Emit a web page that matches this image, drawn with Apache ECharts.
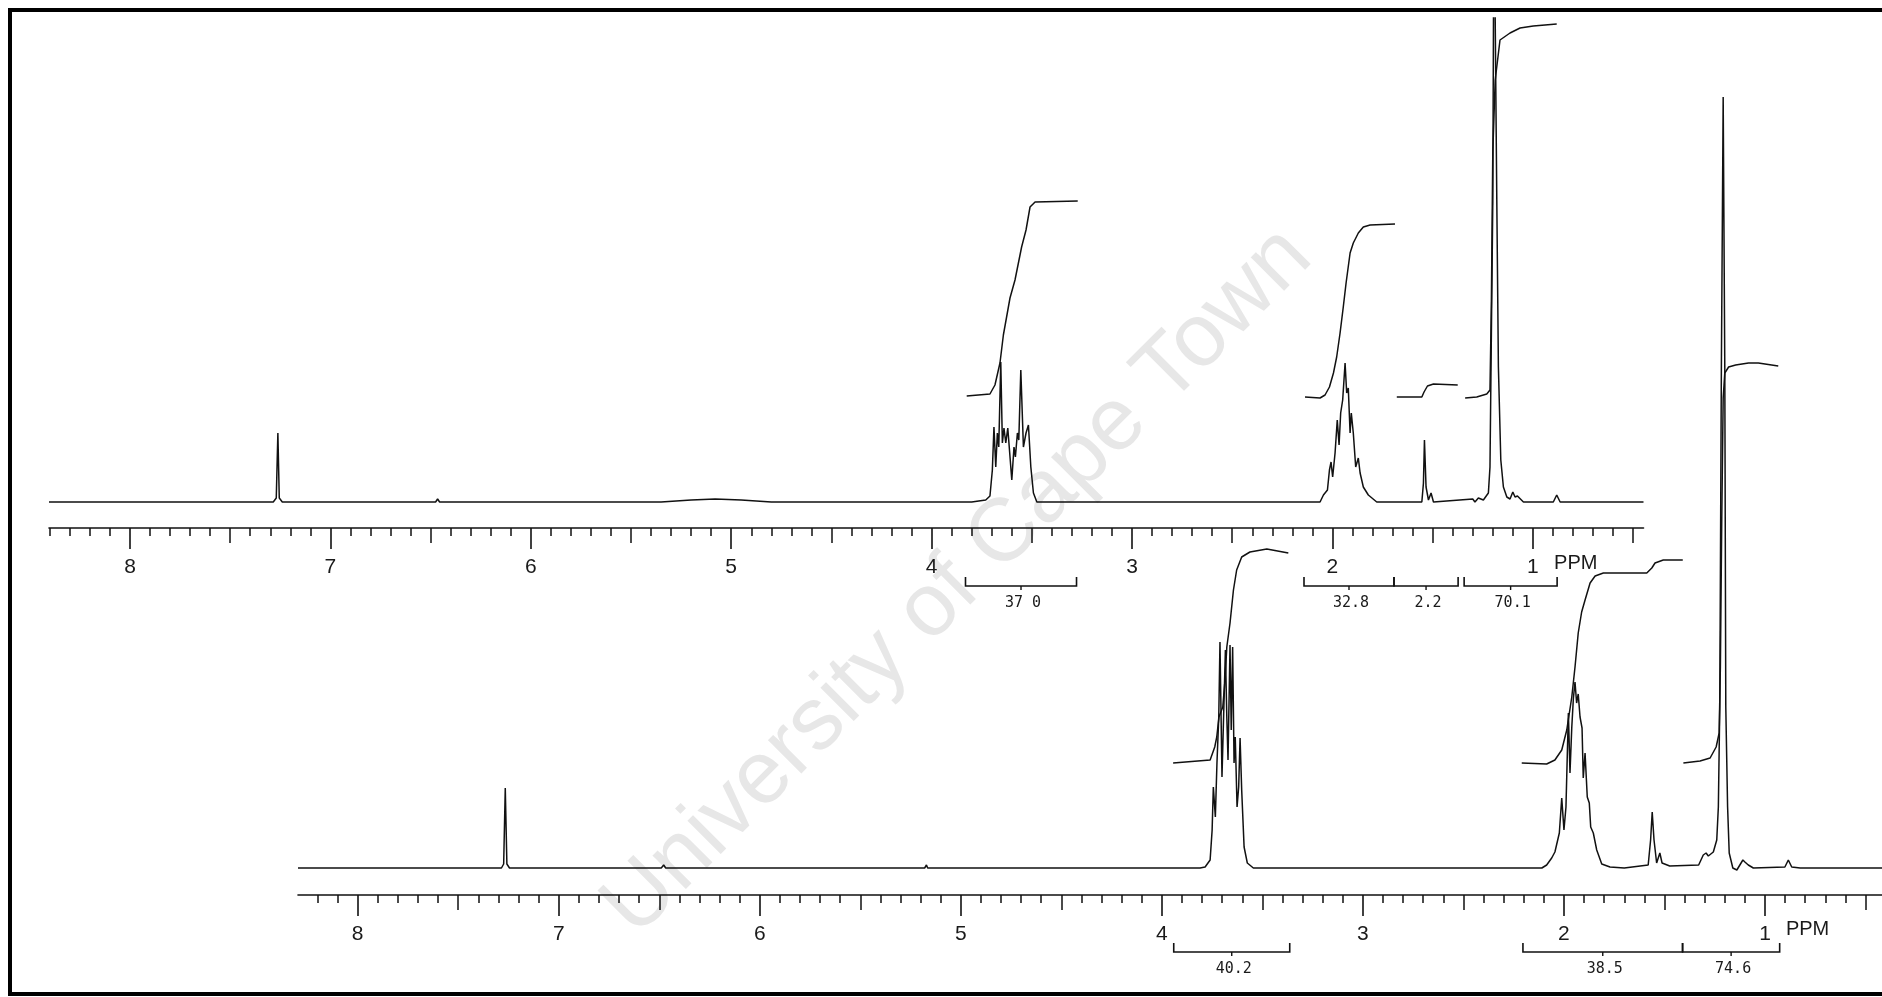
<!DOCTYPE html>
<html>
<head>
<meta charset="utf-8">
<title>1H NMR spectra</title>
<script src="https://cdn.jsdelivr.net/npm/echarts@6/dist/echarts.min.js"></script>
<style>
html, body { margin: 0; padding: 0; background: #fff; }
#chart { width: 1882px; height: 997px; }
</style>
</head>
<body>
<div id="chart"></div>
<script>
// ppm vs. intensity (intensity, baseline = 0)
var topSpectrum = [
    [8.404, 0], [7.285, 0], [7.270, 4], [7.262, 69], [7.255, 4], [7.240, 0],
    [6.475, 0], [6.465, 3], [6.455, 0],
    [5.35, 0], [5.20, 2], [5.08, 3], [4.95, 2], [4.80, 0],
    [3.80, 0], [3.73, 2], [3.709, 6], [3.697, 32], [3.689, 75], [3.680, 35], [3.672, 69], [3.665, 55],
    [3.655, 140], [3.647, 59], [3.639, 74], [3.630, 59], [3.620, 74], [3.600, 22], [3.589, 55], [3.582, 45],
    [3.572, 69], [3.565, 62], [3.555, 132], [3.542, 55], [3.529, 69], [3.517, 77], [3.505, 35], [3.492, 9], [3.475, 0],
    [2.10, 0], [2.062, 0], [2.045, 7], [2.025, 12], [2.015, 32], [2.007, 40], [1.999, 25], [1.987, 49],
    [1.976, 82], [1.967, 57], [1.959, 89], [1.949, 102], [1.937, 139], [1.929, 109], [1.921, 114], [1.912, 69],
    [1.906, 89], [1.896, 69], [1.884, 35], [1.871, 44], [1.862, 29], [1.846, 15], [1.821, 7], [1.779, 0],
    [1.554, 0], [1.546, 19], [1.541, 62], [1.533, 15], [1.521, 2], [1.508, 9], [1.496, 0],
    [1.300, 3], [1.289, 0], [1.272, 4], [1.247, 2],
    [1.222, 9], [1.214, 35], [1.207, 169], [1.200, 300], [1.194, 620], [1.180, 302], [1.172, 135], [1.160, 42],
    [1.147, 15], [1.130, 5], [1.114, 3], [1.100, 10], [1.089, 5], [1.077, 6], [1.047, 0],
    [0.898, 0], [0.881, 7], [0.864, 0], [0.448, 0]
];
var topIntegrals = [
    [[3.825, 106], [3.709, 108], [3.684, 117], [3.659, 139], [3.642, 167], [3.617, 195], [3.609, 204],
     [3.584, 222], [3.551, 255], [3.529, 272], [3.509, 295], [3.484, 300], [3.271, 301]],
    [[2.137, 105], [2.062, 104], [2.037, 107], [2.015, 115], [1.995, 129], [1.979, 145], [1.962, 169],
     [1.946, 195], [1.932, 219], [1.912, 249], [1.896, 259], [1.871, 269], [1.846, 275], [1.812, 277], [1.688, 278]],
    [[1.679, 105], [1.554, 105], [1.543, 110], [1.526, 116], [1.496, 118], [1.375, 117]],
    [[1.338, 104], [1.280, 105], [1.230, 108], [1.214, 112], [1.207, 200], [1.200, 350], [1.188, 422],
     [1.164, 462], [1.114, 469], [1.064, 474], [0.998, 476], [0.881, 478]]
];
var topBrackets = [[3.831, 3.277], [2.142, 1.693], [1.693, 1.373], [1.343, 0.879]];
var topBracketLabels = ['37 0', '32.8', '2.2', '70.1'];

var bottomSpectrum = [
    [8.297, 0], [7.285, 0], [7.274, 4], [7.266, 80], [7.258, 4], [7.245, 0],
    [6.49, 0], [6.478, 3], [6.468, 0],
    [5.18, 0], [5.171, 3], [5.165, 0],
    [3.81, 0], [3.785, 1], [3.760, 8], [3.750, 38], [3.744, 81], [3.734, 51], [3.726, 105], [3.717, 151],
    [3.711, 226], [3.701, 91], [3.692, 90], [3.684, 218], [3.677, 151], [3.671, 108], [3.661, 223], [3.655, 138],
    [3.648, 221], [3.641, 105], [3.635, 131], [3.626, 61], [3.618, 81], [3.611, 130], [3.603, 78], [3.591, 21],
    [3.575, 5], [3.545, 0],
    [2.11, 0], [2.086, 3], [2.061, 10], [2.045, 16], [2.023, 35], [2.011, 70], [2.000, 38], [1.990, 61],
    [1.978, 155], [1.970, 95], [1.961, 141], [1.953, 170], [1.945, 186], [1.937, 165], [1.929, 174], [1.920, 151],
    [1.910, 140], [1.904, 90], [1.895, 115], [1.884, 71], [1.874, 65], [1.867, 41], [1.854, 35], [1.837, 18],
    [1.812, 4], [1.771, 1], [1.70, 0],
    [1.581, 3], [1.569, 28], [1.561, 56], [1.552, 28], [1.539, 5], [1.523, 15], [1.512, 5], [1.474, 2],
    [1.33, 3], [1.307, 13], [1.293, 15], [1.282, 12], [1.257, 16], [1.240, 28],
    [1.232, 61], [1.225, 161], [1.217, 500], [1.208, 771], [1.200, 500], [1.195, 161], [1.186, 61], [1.178, 15],
    [1.160, 0], [1.140, -2], [1.110, 8], [1.100, 6], [1.083, 3], [1.058, 0],
    [0.901, 1], [0.884, 8], [0.867, 1], [0.825, 0], [0.418, 0]
];
var bottomIntegrals = [
    [[3.944, 105], [3.760, 108], [3.737, 121], [3.727, 131], [3.716, 151], [3.697, 161], [3.686, 188],
     [3.677, 221], [3.661, 245], [3.644, 278], [3.628, 298], [3.603, 311], [3.562, 316], [3.478, 319], [3.371, 315]],
    [[2.210, 105], [2.086, 104], [2.045, 108], [2.011, 118], [1.986, 138], [1.961, 171], [1.945, 201],
     [1.929, 235], [1.912, 256], [1.895, 268], [1.870, 285], [1.845, 292], [1.804, 295], [1.588, 295],
     [1.563, 300], [1.547, 305], [1.506, 308], [1.409, 308]],
    [[1.406, 105], [1.323, 107], [1.273, 110], [1.243, 121], [1.228, 135], [1.222, 200], [1.215, 350],
     [1.208, 470], [1.200, 495], [1.181, 501], [1.146, 503], [1.082, 505], [1.033, 505], [0.934, 502]]
];
var bottomBrackets = [[3.941, 3.364], [2.204, 1.410], [1.410, 0.927]];
var bottomBracketLabels = ['40.2', '38.5', '74.6'];

// axis ticks (ppm)
var majorTicks = [1, 2, 3, 4, 5, 6, 7, 8];
var halfTicks = [0.5, 1.5, 2.5, 3.5, 4.5, 5.5, 6.5, 7.5];
var tenthTicks = [];
for (var i = 4; i <= 84; i++) {
    if (i % 5 !== 0) tenthTicks.push(i / 10);
}

var INK = '#111';
var FONT = '"Liberation Sans Narrow", "Liberation Sans", sans-serif';

function ppmAxes(grid, min, max) {
    var base = {
        type: 'value', gridIndex: grid, min: min, max: max, inverse: true,
        position: 'bottom', offset: 0, splitLine: { show: false }
    };
    return [
        Object.assign({}, base, {
            axisLine: { show: true, onZero: false, lineStyle: { color: INK, width: 1.6 } },
            axisTick: { show: true, customValues: majorTicks, length: 21, lineStyle: { color: INK, width: 1.6 } },
            axisLabel: { show: true, customValues: majorTicks, margin: 29, color: '#1a1a1a', fontSize: 21, fontFamily: FONT }
        }),
        Object.assign({}, base, {
            axisLine: { show: false, onZero: false },
            axisTick: { show: true, customValues: halfTicks, length: 15, lineStyle: { color: INK, width: 1.5 } },
            axisLabel: { show: false }
        }),
        Object.assign({}, base, {
            axisLine: { show: false, onZero: false },
            axisTick: { show: true, customValues: tenthTicks, length: 8, lineStyle: { color: INK, width: 1.5 } },
            axisLabel: { show: false }
        })
    ];
}

function trace(data, xi, yi) {
    return {
        type: 'line', xAxisIndex: xi, yAxisIndex: yi, data: data,
        symbol: 'none', showSymbol: false, silent: true, clip: true, z: 3,
        lineStyle: { color: INK, width: 1.5 }
    };
}

function brackets(data, labels, xi, yi) {
    return {
        type: 'custom', xAxisIndex: xi, yAxisIndex: yi, data: data, clip: false, silent: true,
        renderItem: function (params, api) {
            var x0 = api.coord([api.value(0), 0])[0];
            var x1 = api.coord([api.value(1), 0])[0];
            var y0 = api.coord([api.value(0), 0])[1];
            var yb = y0 + 84;
            var xm = (x0 + x1) / 2;
            return {
                type: 'group',
                children: [
                    { type: 'polyline', shape: { points: [[x0, yb - 9], [x0, yb], [x1, yb], [x1, yb - 9]] },
                      style: { stroke: INK, lineWidth: 1.6, fill: null } },
                    { type: 'line', shape: { x1: xm, y1: yb, x2: xm, y2: yb + 4 },
                      style: { stroke: INK, lineWidth: 1.4 } },
                    { type: 'text', x: xm + 2, y: yb + 17,
                      style: { text: labels[params.dataIndex], align: 'center', verticalAlign: 'middle',
                               textAlign: 'center', textVerticalAlign: 'middle',
                               fontSize: 15, fontFamily: '"DejaVu Sans Mono", monospace', fill: '#1a1a1a' } }
                ]
            };
        }
    };
}

var series = [trace(topSpectrum, 0, 0), trace(bottomSpectrum, 3, 1)];
topIntegrals.forEach(function (d) { series.push(trace(d, 0, 0)); });
bottomIntegrals.forEach(function (d) { series.push(trace(d, 3, 1)); });
series.push(brackets(topBrackets, topBracketLabels, 0, 0));
series.push(brackets(bottomBrackets, bottomBracketLabels, 3, 1));

var chart = echarts.init(document.getElementById('chart'));
chart.setOption({
    animation: false,
    backgroundColor: '#fff',
    grid: [
        { left: 49, top: 18, width: 1594.5, height: 510 },
        { left: 298, top: 96, width: 1584, height: 799 }
    ],
    xAxis: ppmAxes(0, 0.448, 8.404).concat(ppmAxes(1, 0.418, 8.297)),
    yAxis: [
        { type: 'value', gridIndex: 0, min: -26, max: 484, show: false },
        { type: 'value', gridIndex: 1, min: -27, max: 772, show: false }
    ],
    series: series
});

// "PPM" units after the 1 label, placed through the axis scales
var ppmTopX = chart.convertToPixel({ xAxisIndex: 0 }, 0.894);
var ppmBotX = chart.convertToPixel({ xAxisIndex: 3 }, 0.896);
var axisTopY = chart.convertToPixel({ yAxisIndex: 0 }, -26);
var axisBotY = chart.convertToPixel({ yAxisIndex: 1 }, -27);

chart.setOption({
    graphic: [
        { type: 'text', x: 958, y: 582, rotation: Math.PI / 4, z: -10, silent: true,
          style: { text: 'University of Cape Town', align: 'center', verticalAlign: 'middle',
                   textAlign: 'center', textVerticalAlign: 'middle',
                   fontSize: 89, fontFamily: '"Liberation Sans", sans-serif', fill: '#e7e7e7' } },
        { type: 'text', x: ppmTopX, y: axisTopY + 35, silent: true,
          style: { text: 'PPM', align: 'left', verticalAlign: 'middle', textAlign: 'left', textVerticalAlign: 'middle',
                   fontSize: 20, fontFamily: FONT, fill: '#1a1a1a' } },
        { type: 'text', x: ppmBotX, y: axisBotY + 34, silent: true,
          style: { text: 'PPM', align: 'left', verticalAlign: 'middle', textAlign: 'left', textVerticalAlign: 'middle',
                   fontSize: 20, fontFamily: FONT, fill: '#1a1a1a' } },
        { type: 'rect', z: 100, silent: true,
          shape: { x: 10, y: 10, width: 1900, height: 984 },
          style: { fill: null, stroke: '#000', lineWidth: 4 } }
    ]
});

window.addEventListener('resize', function () {
    chart.resize();
});
</script>
</body>
</html>
